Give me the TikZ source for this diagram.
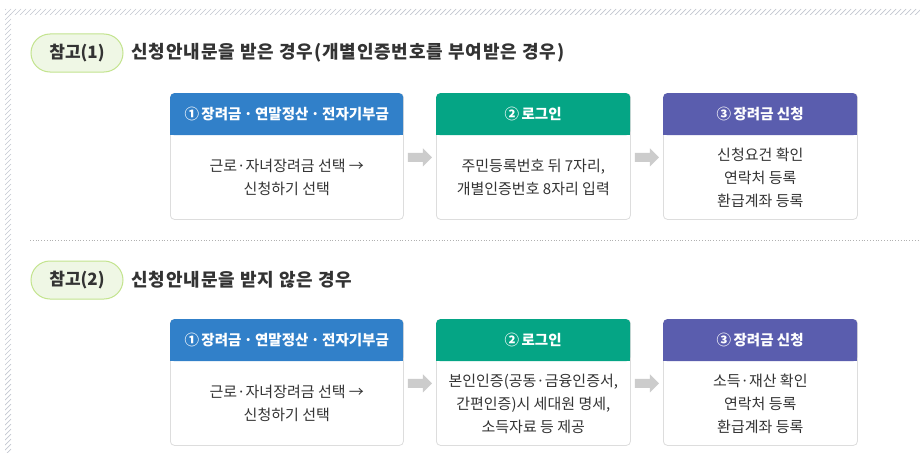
\documentclass[tikz,border=0pt]{standalone}
\usepackage{fontspec}
\setmainfont{Noto Sans CJK KR}
\newfontfamily\titlefont[LetterSpace=5]{Noto Sans CJK KR}
\usetikzlibrary{calc}
\definecolor{hblue}{HTML}{3180C9}
\definecolor{hgreen}{HTML}{05A585}
\definecolor{hpurple}{HTML}{5A5DAE}
\definecolor{pillfill}{HTML}{EFF7E5}
\definecolor{pilldraw}{HTML}{C3E48E}
\definecolor{txt}{HTML}{333333}
\definecolor{bordergray}{HTML}{DDDDDD}
\definecolor{arrowgray}{HTML}{CCCCCC}
\definecolor{hatchgray}{HTML}{C3C7D0}
\tikzset{
  framebox/.style={draw=bordergray, fill=white, rounded corners=4pt, line width=0.8pt, anchor=north west, inner sep=0pt},
  hdrbox/.style={rounded corners=4pt, anchor=north west, inner sep=0pt},
  hdrtext/.style={text=white, font=\bfseries\fontsize{14.5}{17}\selectfont, inner sep=0pt},
  bodytext/.style={text=txt, align=center, font=\fontsize{15}{23}\selectfont, inner sep=0pt},
  pill/.style={draw=pilldraw, fill=pillfill, line width=1pt, rounded corners=19pt, minimum width=92pt, minimum height=38pt, inner sep=0pt, text=txt, font=\bfseries\fontsize{17}{20}\selectfont},
  titletext/.style={anchor=west, inner sep=0pt, text=txt, font=\titlefont\bfseries\fontsize{18}{21}\selectfont},
  hatch/.style={draw=hatchgray, line width=0.7pt},
}
\newcommand{\mkcard}[7]{%
  \node[framebox, minimum width=#4pt, minimum height=126pt] (f#1) at (#2,#3) {};
  \node[hdrbox, fill=#5, minimum width=#4pt, minimum height=42pt] (h#1) at (#2,#3) {};
  \fill[#5] (h#1.west) rectangle (h#1.south east);
  \node[hdrtext] (l#1) at (h#1.center) {#6};
  \node[bodytext] (t#1) at ($(h#1.south)!.5!(f#1.south)$) {#7};
}
\newcommand{\mkarrow}[2]{%
  \fill[arrowgray] ($(f#1.east)!.5!(f#2.west)+(0,1)$) ++(-12,-4.5) -- ++(15,0) -- ++(0,-4.5) -- ++(9,9) -- ++(-9,9) -- ++(0,-4.5) -- ++(-15,0) -- cycle;
}
\begin{document}
\begin{tikzpicture}[x=1pt,y=-1pt]
\useasboundingbox (0,0) rectangle (920,452);
\fill[white] (0,0) rectangle (920,452);
% hatched border
\begin{scope}
  \clip (5,9) rectangle (920,15);
  \foreach \x in {0,5,...,925} \draw[hatch] (\x,15) -- (\x+6,9);
\end{scope}
\begin{scope}
  \clip (5,15) rectangle (11,452);
  \foreach \y in {15,20,...,460} \draw[hatch] (5,\y) -- (11,\y-6);
\end{scope}
% section 1
\node[pill] (p1) at (77,53) {참고(1)};
\node[titletext] (ti1) at (131,53) {신청안내문을 받은 경우(개별인증번호를 부여받은 경우)};
\mkcard{a1}{170}{93}{233}{hblue}{①\,장려금\,·\,연말정산\,·\,전자기부금}{근로·자녀장려금 선택 →\\신청하기 선택}
\mkcard{a2}{436}{93}{194}{hgreen}{②\,로그인}{주민등록번호 뒤 7자리,\\개별인증번호 8자리 입력}
\mkcard{a3}{663}{93}{194}{hpurple}{③\,장려금 신청}{신청요건 확인\\연락처 등록\\환급계좌 등록}
\mkarrow{a1}{a2}
\mkarrow{a2}{a3}
% separator
\draw[bordergray!80!black, dotted, line width=0.8pt] (30,240) -- (920,240);
% section 2
\node[pill] (p2) at (77,280) {참고(2)};
\node[titletext] (ti2) at (131,280) {신청안내문을 받지 않은 경우};
\mkcard{b1}{170}{319}{233}{hblue}{①\,장려금\,·\,연말정산\,·\,전자기부금}{근로·자녀장려금 선택 →\\신청하기 선택}
\mkcard{b2}{436}{319}{194}{hgreen}{②\,로그인}{본인인증(공동·금융인증서,\\간편인증)시 세대원 명세,\\소득자료 등 제공}
\mkcard{b3}{663}{319}{194}{hpurple}{③\,장려금 신청}{소득·재산 확인\\연락처 등록\\환급계좌 등록}
\mkarrow{b1}{b2}
\mkarrow{b2}{b3}
\end{tikzpicture}
\end{document}
